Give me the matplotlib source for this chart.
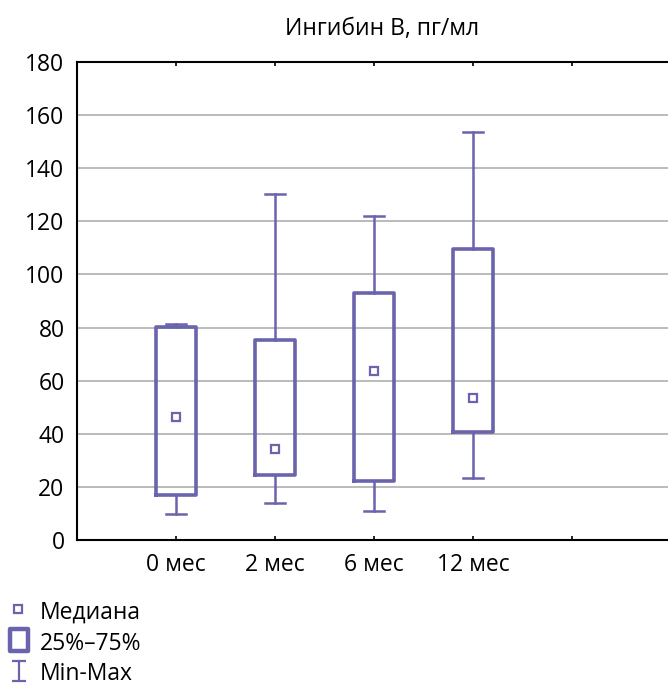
import matplotlib
matplotlib.use('Agg')
import matplotlib.pyplot as plt
from matplotlib.lines import Line2D
from matplotlib.path import Path

plt.rcParams['font.family'] = ['Open Sans', 'DejaVu Sans']

# values
groups = ['0 мес', '2 мес', '6 мес', '12 мес']
medians = [46.5, 34.3, 63.5, 53.5]
q1 = [16.9, 24.5, 22.2, 40.7]
q3 = [80.2, 75.3, 93.0, 109.6]
mins = [9.8, 13.9, 10.9, 23.3]
maxs = [81.3, 130.3, 122.0, 153.6]
legend_labels = ['Медиана', '25%–75%', 'Min-Max']

col = '#6a63ad'
fs = 16.5

fig = plt.figure(figsize=(6.68, 6.86), dpi=100)
ax = fig.add_axes([0.1153, 0.2128, 0.8847, 0.6968])

stats = []
for i in range(len(groups)):
    stats.append({'med': medians[i], 'q1': q1[i], 'q3': q3[i],
                  'whislo': mins[i], 'whishi': maxs[i], 'label': groups[i]})
pos = [1, 2, 3, 4]
ax.bxp(stats, positions=pos, widths=0.4, showfliers=False,
       boxprops=dict(color=col, linewidth=2.6),
       whiskerprops=dict(color=col, linewidth=1.8),
       capprops=dict(color=col, linewidth=1.8),
       medianprops=dict(linewidth=0),
       capwidths=0.2, zorder=3)
ax.plot(pos, medians, ls='none', marker='s', ms=6, mfc='white', mec=col,
        mew=1.6, zorder=4)

ax.set_xlim(0, 5.97)
ax.set_ylim(0, 180)
ax.set_yticks(range(0, 181, 20))
ax.set_xticks([1, 2, 3, 4, 5])
ax.set_xticklabels(groups + [''])
ax.tick_params(axis='x', direction='in', length=3, width=1.2, top=True,
               labelsize=fs, pad=9)
ax.tick_params(axis='y', length=0, labelsize=fs, pad=9)
for y in range(20, 180, 20):
    ax.axhline(y, color='#a8a8a8', lw=1.1, zorder=1)
for s in ['left', 'top', 'bottom']:
    ax.spines[s].set_linewidth(1.5)
ax.spines['right'].set_visible(False)

fig.text(0.572, 0.957, 'Ингибин В, пг/мл', ha='center', va='center', fontsize=fs)

# legend below the plot, drawn by hand in figure coords
ibeam = Path([(-0.75, 1), (0.75, 1), (0, 1), (0, -1), (-0.75, -1), (0.75, -1)],
             [Path.MOVETO, Path.LINETO, Path.MOVETO, Path.LINETO,
              Path.MOVETO, Path.LINETO])
rect = Path([(-0.8, -1), (0.8, -1), (0.8, 1), (-0.8, 1), (-0.8, -1)],
            [Path.MOVETO, Path.LINETO, Path.LINETO, Path.LINETO, Path.CLOSEPOLY])
sym_y = [0.1120, 0.0670, 0.0220]
base_y = [0.0975, 0.0525, 0.0090]
fig.add_artist(Line2D([0.027], [sym_y[0]], transform=fig.transFigure, ls='none',
                      marker='s', ms=6, mfc='white', mec=col, mew=1.6))
fig.add_artist(Line2D([0.028], [sym_y[1]], transform=fig.transFigure, ls='none',
                      marker=rect, ms=16, mfc='white', mec=col, mew=3.2))
fig.add_artist(Line2D([0.029], [sym_y[2]], transform=fig.transFigure, ls='none',
                      marker=ibeam, ms=14, mec=col, mew=1.6))
for lab, yb in zip(legend_labels, base_y):
    fig.text(0.059, yb, lab, ha='left', va='baseline', fontsize=fs)

plt.savefig('out.png', dpi=100)
